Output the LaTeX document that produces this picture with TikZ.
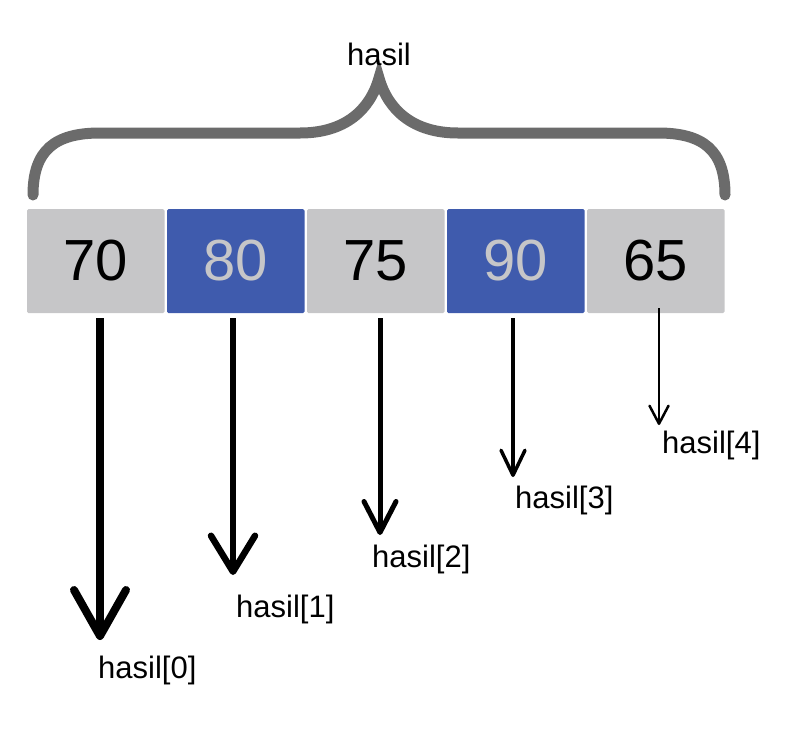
\documentclass[tikz,border=0pt]{standalone}
\usepackage{fontspec}
\setmainfont{Liberation Sans}
\usetikzlibrary{arrows.meta}
\definecolor{cellgray}{HTML}{C6C6C8}
\definecolor{cellblue}{HTML}{3F5BAD}
\definecolor{bracegray}{HTML}{6B6B6B}
\tikzset{cell/.style = {rounded corners = 1.5, minimum width = 137.5, minimum height = 104, inner sep = 0, font = \fontsize{58}{60}\selectfont}}
\tikzset{lbl/.style = {inner sep = 0, anchor = base west, font = \fontsize{31}{34}\selectfont}}
\begin{document}
\begin{tikzpicture}[x=1pt, y=-1pt]
  \useasboundingbox (0, 0) rectangle (787, 745);
  \foreach \v/\c/\t [count=\i from 0] in {70/cellgray/black, 80/cellblue/cellgray, 75/cellgray/black, 90/cellblue/cellgray, 65/cellgray/black} {
    \node [cell, fill=\c, text=\t] (b\i) at (95.75 + 140*\i, 261) {\v};
  }
  % brace over the array
  \draw [bracegray, line width = 11, line cap = round, line join = miter]
    (33, 195) .. controls (33, 150) and (55, 133) .. (100, 133) -- (300, 133)
    .. controls (345, 133) and (370, 110) .. (379, 78)
    .. controls (388, 110) and (413, 133) .. (458, 133) -- (658, 133)
    .. controls (703, 133) and (725, 150) .. (725, 195);
  \node [anchor = base, inner sep = 0, font = \fontsize{31}{34}\selectfont] (top) at (379, 65) {hasil};
  \foreach \i/\tx/\ty/\dy/\lw/\hl/\hw/\lx/\ly in {0/100/640/5/8/46/52/98/678, 1/233/575/5/6.5/36/44/236/617, 2/380/535/5/5/31/32/372/567, 3/513/477/5/3.5/25/24/515/508, 4/659/425/-5/2.5/18/19/662/453} {
    \coordinate (t\i) at (\tx, \ty);
    \node [lbl] (l\i) at (\lx, \ly) {hasil[\i]};
    \draw [line width = \lw, -{Straight Barb[length = \hl pt, width = \hw pt, round]}] (b\i.south -| t\i) ++(0, \dy) -- (t\i);
  }
\end{tikzpicture}
\end{document}
